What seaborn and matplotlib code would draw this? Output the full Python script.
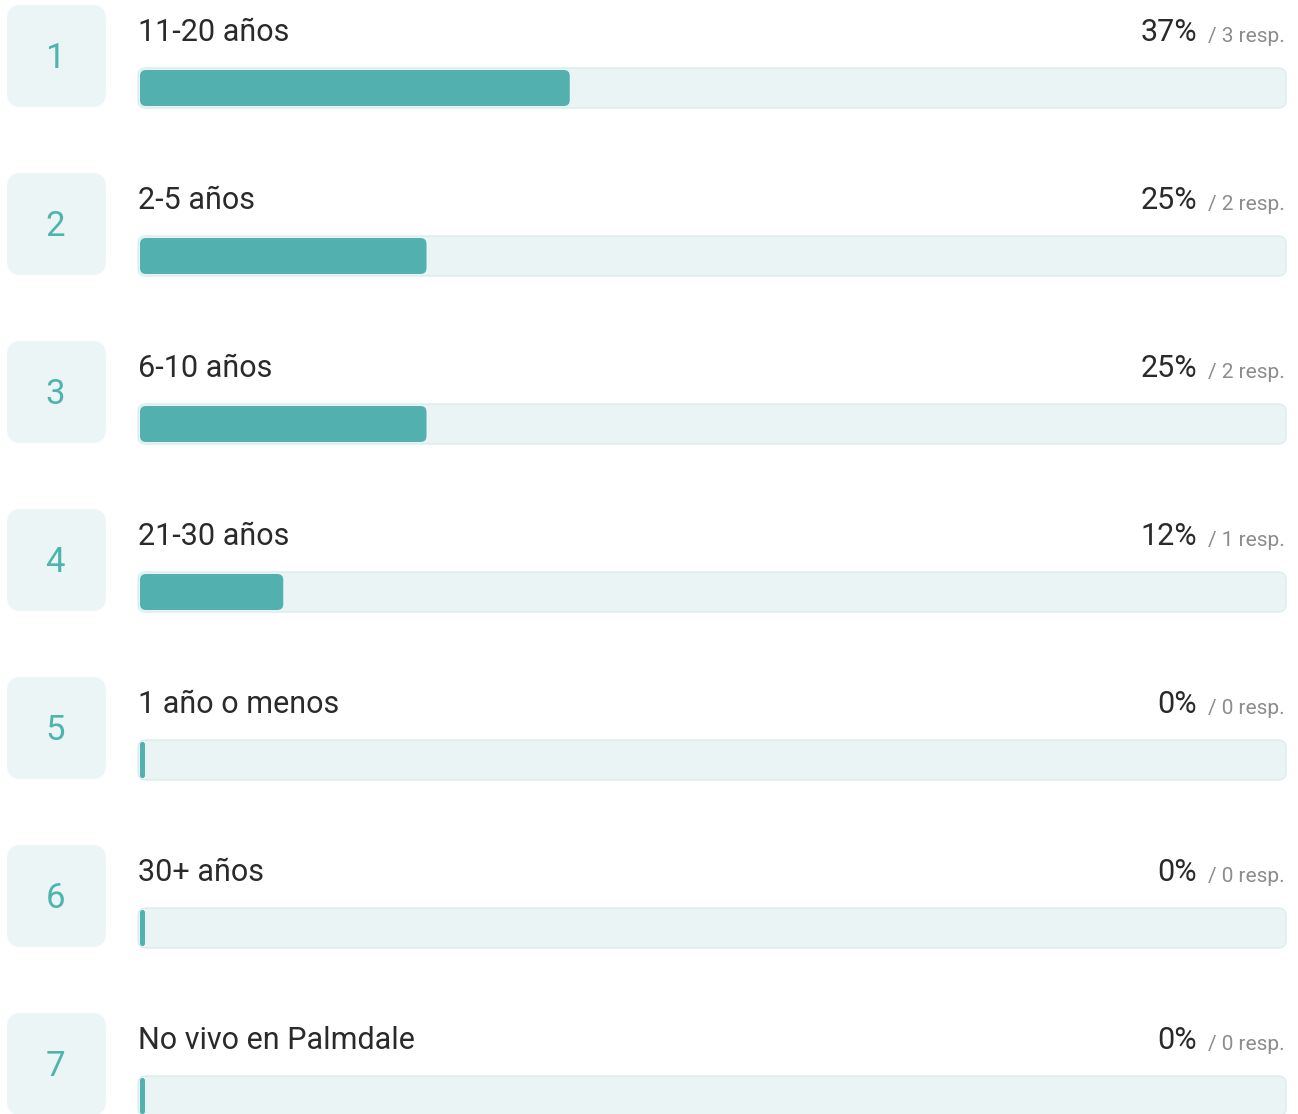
import matplotlib
matplotlib.use("Agg")
import matplotlib.pyplot as plt
from matplotlib.patches import FancyBboxPatch
import pandas as pd
import seaborn as sns

# Survey answers, in ranked order
categories = ["11-20 años", "2-5 años", "6-10 años", "21-30 años",
              "1 año o menos", "30+ años", "No vivo en Palmdale"]
ranks = [1, 2, 3, 4, 5, 6, 7]
responses = [3, 2, 2, 1, 0, 0, 0]
total_responses = 8

shares = [100 * r / total_responses for r in responses]
pct_labels = [f"{int(s)}%" for s in shares]
resp_labels = [f"/ {r} resp." for r in responses]

# Canvas and palette
W, H, DPI = 1298, 1114, 100
TEAL = "#52B0AE"
TRACK = "#EAF4F5"
TRACK_EDGE = "#D9EDED"
BOX = "#EBF5F6"
NUM = "#4DB5AE"
TEXT = "#2A2A2A"
MUTED = "#8C8C8C"

ROW0 = 88      # pixel y of the first bar centre
PITCH = 168    # pixel distance between rows
X0, X100 = 140, 1286   # pixel x of 0 % and 100 %
pxu = (X100 - X0) / 100.0          # pixels per percent
aspect = pxu / PITCH               # y-units per x-unit at equal pixel size

sns.set_theme(style="white")
plt.rcParams["font.family"] = ["Roboto", "DejaVu Sans"]

fig = plt.figure(figsize=(W / DPI, H / DPI), dpi=DPI)
fig.patch.set_facecolor("white")

ax = fig.add_axes([0, 0, 1, 1])
df = pd.DataFrame({"categoria": categories, "pct": shares, "full": 100.0})

sns.barplot(data=df, x="full", y="categoria", orient="h", color=TRACK,
            saturation=1, width=36 / PITCH, ax=ax)
n_track = len(ax.patches)
sns.barplot(data=df, x="pct", y="categoria", orient="h", color=TEAL,
            saturation=1, width=36 / PITCH, ax=ax)

ax.set_xlim(-X0 / pxu, (W - X0) / pxu)
ax.set_ylim((H - ROW0) / PITCH, -ROW0 / PITCH)
ax.set_axis_off()


def round_bar(patch, radius_px, pad_px=0.0, min_w_px=0.0, shrink_px=0.0, **kw):
    """Swap a seaborn rectangle for a rounded one with the same extent."""
    x, y = patch.get_x(), patch.get_y()
    w, h = patch.get_width(), patch.get_height()
    fc = patch.get_facecolor()
    patch.remove()
    w = max(w - shrink_px / pxu, min_w_px / pxu)
    r = min(radius_px / pxu, w / 2, h / aspect / 2 + pad_px / pxu)
    box = FancyBboxPatch((x, y), w, h,
                         boxstyle=f"round,pad={pad_px / pxu},rounding_size={r}",
                         mutation_aspect=aspect, facecolor=fc, **kw)
    ax.add_patch(box)


patches = list(ax.patches)
for p in patches[:n_track]:
    round_bar(p, 8, pad_px=2, shrink_px=2, edgecolor=TRACK_EDGE,
              linewidth=1.0, zorder=1)
for p in patches[n_track:]:
    round_bar(p, 6, min_w_px=5, edgecolor="none", zorder=2)

# Overlay in pixel units for rank badges and text
ov = fig.add_axes([0, 0, 1, 1], facecolor="none")
ov.set_xlim(0, W)
ov.set_ylim(H, 0)
ov.set_axis_off()

for i, (cat, rk, pl, rl) in enumerate(zip(categories, ranks, pct_labels, resp_labels)):
    cy = ROW0 + PITCH * i
    ov.add_patch(FancyBboxPatch((7, cy - 83), 99, 102,
                                boxstyle="round,pad=0,rounding_size=14",
                                facecolor=BOX, edgecolor="none"))
    ov.text(55, cy - 30, str(rk), ha="center", va="center",
            fontsize=25, color=NUM)
    ov.text(138, cy - 47, cat, ha="left", va="baseline",
            fontsize=22, color=TEXT)
    ov.text(1197, cy - 47, pl, ha="right", va="baseline",
            fontsize=22, color=TEXT)
    ov.text(1285, cy - 46, rl, ha="right", va="baseline",
            fontsize=15, color=MUTED)

fig.savefig("out.png", dpi=DPI)
